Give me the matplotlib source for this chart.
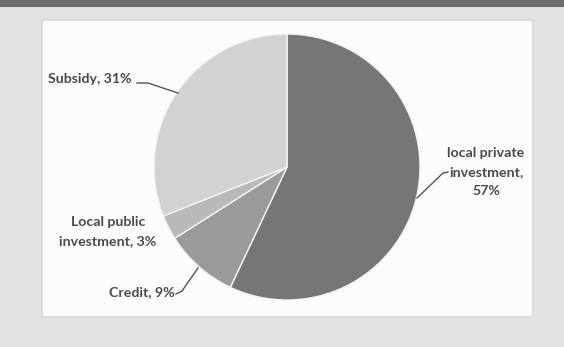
import matplotlib
matplotlib.use("Agg")
import matplotlib.pyplot as plt
from matplotlib.patches import Rectangle

categories = ["local private\ninvestment,", "Credit,", "Local public\ninvestment,", "Subsidy,"]
values = [57, 9, 3, 31]
pct_labels = ["57%", "9%", "3%", "31%"]
colors = ["#767676", "#9a9a9a", "#b9b9b9", "#d2d2d2"]

W, H = 564, 347
fig = plt.figure(figsize=(W / 100, H / 100), dpi=100)
fig.patch.set_facecolor("#e3e3e3")
ax = fig.add_axes([0, 0, 1, 1])
ax.set_xlim(0, W)
ax.set_ylim(0, H)
ax.set_aspect("equal")
ax.axis("off")

def Y(y):
    return H - y

# top dark band
ax.add_patch(Rectangle((0, Y(7)), W, 7, facecolor="#6e6e6e", edgecolor="none", zorder=0))
# white panel
ax.add_patch(Rectangle((42, Y(317)), 533 - 42, 317 - 20, facecolor="#fcfcfc",
                       edgecolor="#dadada", linewidth=1.5, zorder=0))

cx, cy, r = 287, Y(167), 133
ax.pie(values, colors=colors, startangle=90, counterclock=False,
       center=(cx, cy), radius=r, frame=True,
       wedgeprops=dict(edgecolor="#f4f4f4", linewidth=1.0))
ax.set_xlim(0, W)
ax.set_ylim(0, H)
ax.axis("off")

tc = "#4a4a4a"
font = dict(family=["Lato", "DejaVu Sans"], fontweight="bold", fontsize=10.2, color=tc)

# local private investment
ax.text(486, Y(172), categories[0] + "\n" + pct_labels[0], ha="center", va="center",
        linespacing=1.7, **font)
ax.plot([417, 443, 448], [Y(198), Y(173), Y(172)], color="#555555", lw=1.0)

# Credit
ax.text(175, Y(292), categories[1] + " " + pct_labels[1], ha="right", va="center", **font)
ax.plot([176, 182, 198], [Y(294), Y(291), Y(268)], color="#555555", lw=1.0)

# Local public investment
ax.text(108, Y(231.5), categories[2] + " " + pct_labels[2], ha="center", va="center",
        linespacing=1.65, **font)

# Subsidy
ax.text(48, Y(79), categories[3] + " " + pct_labels[3], ha="left", va="center", **font)
ax.plot([137, 148, 178], [Y(83), Y(83), Y(93)], color="#555555", lw=1.0)

fig.savefig("out.png", dpi=100, facecolor=fig.get_facecolor())
